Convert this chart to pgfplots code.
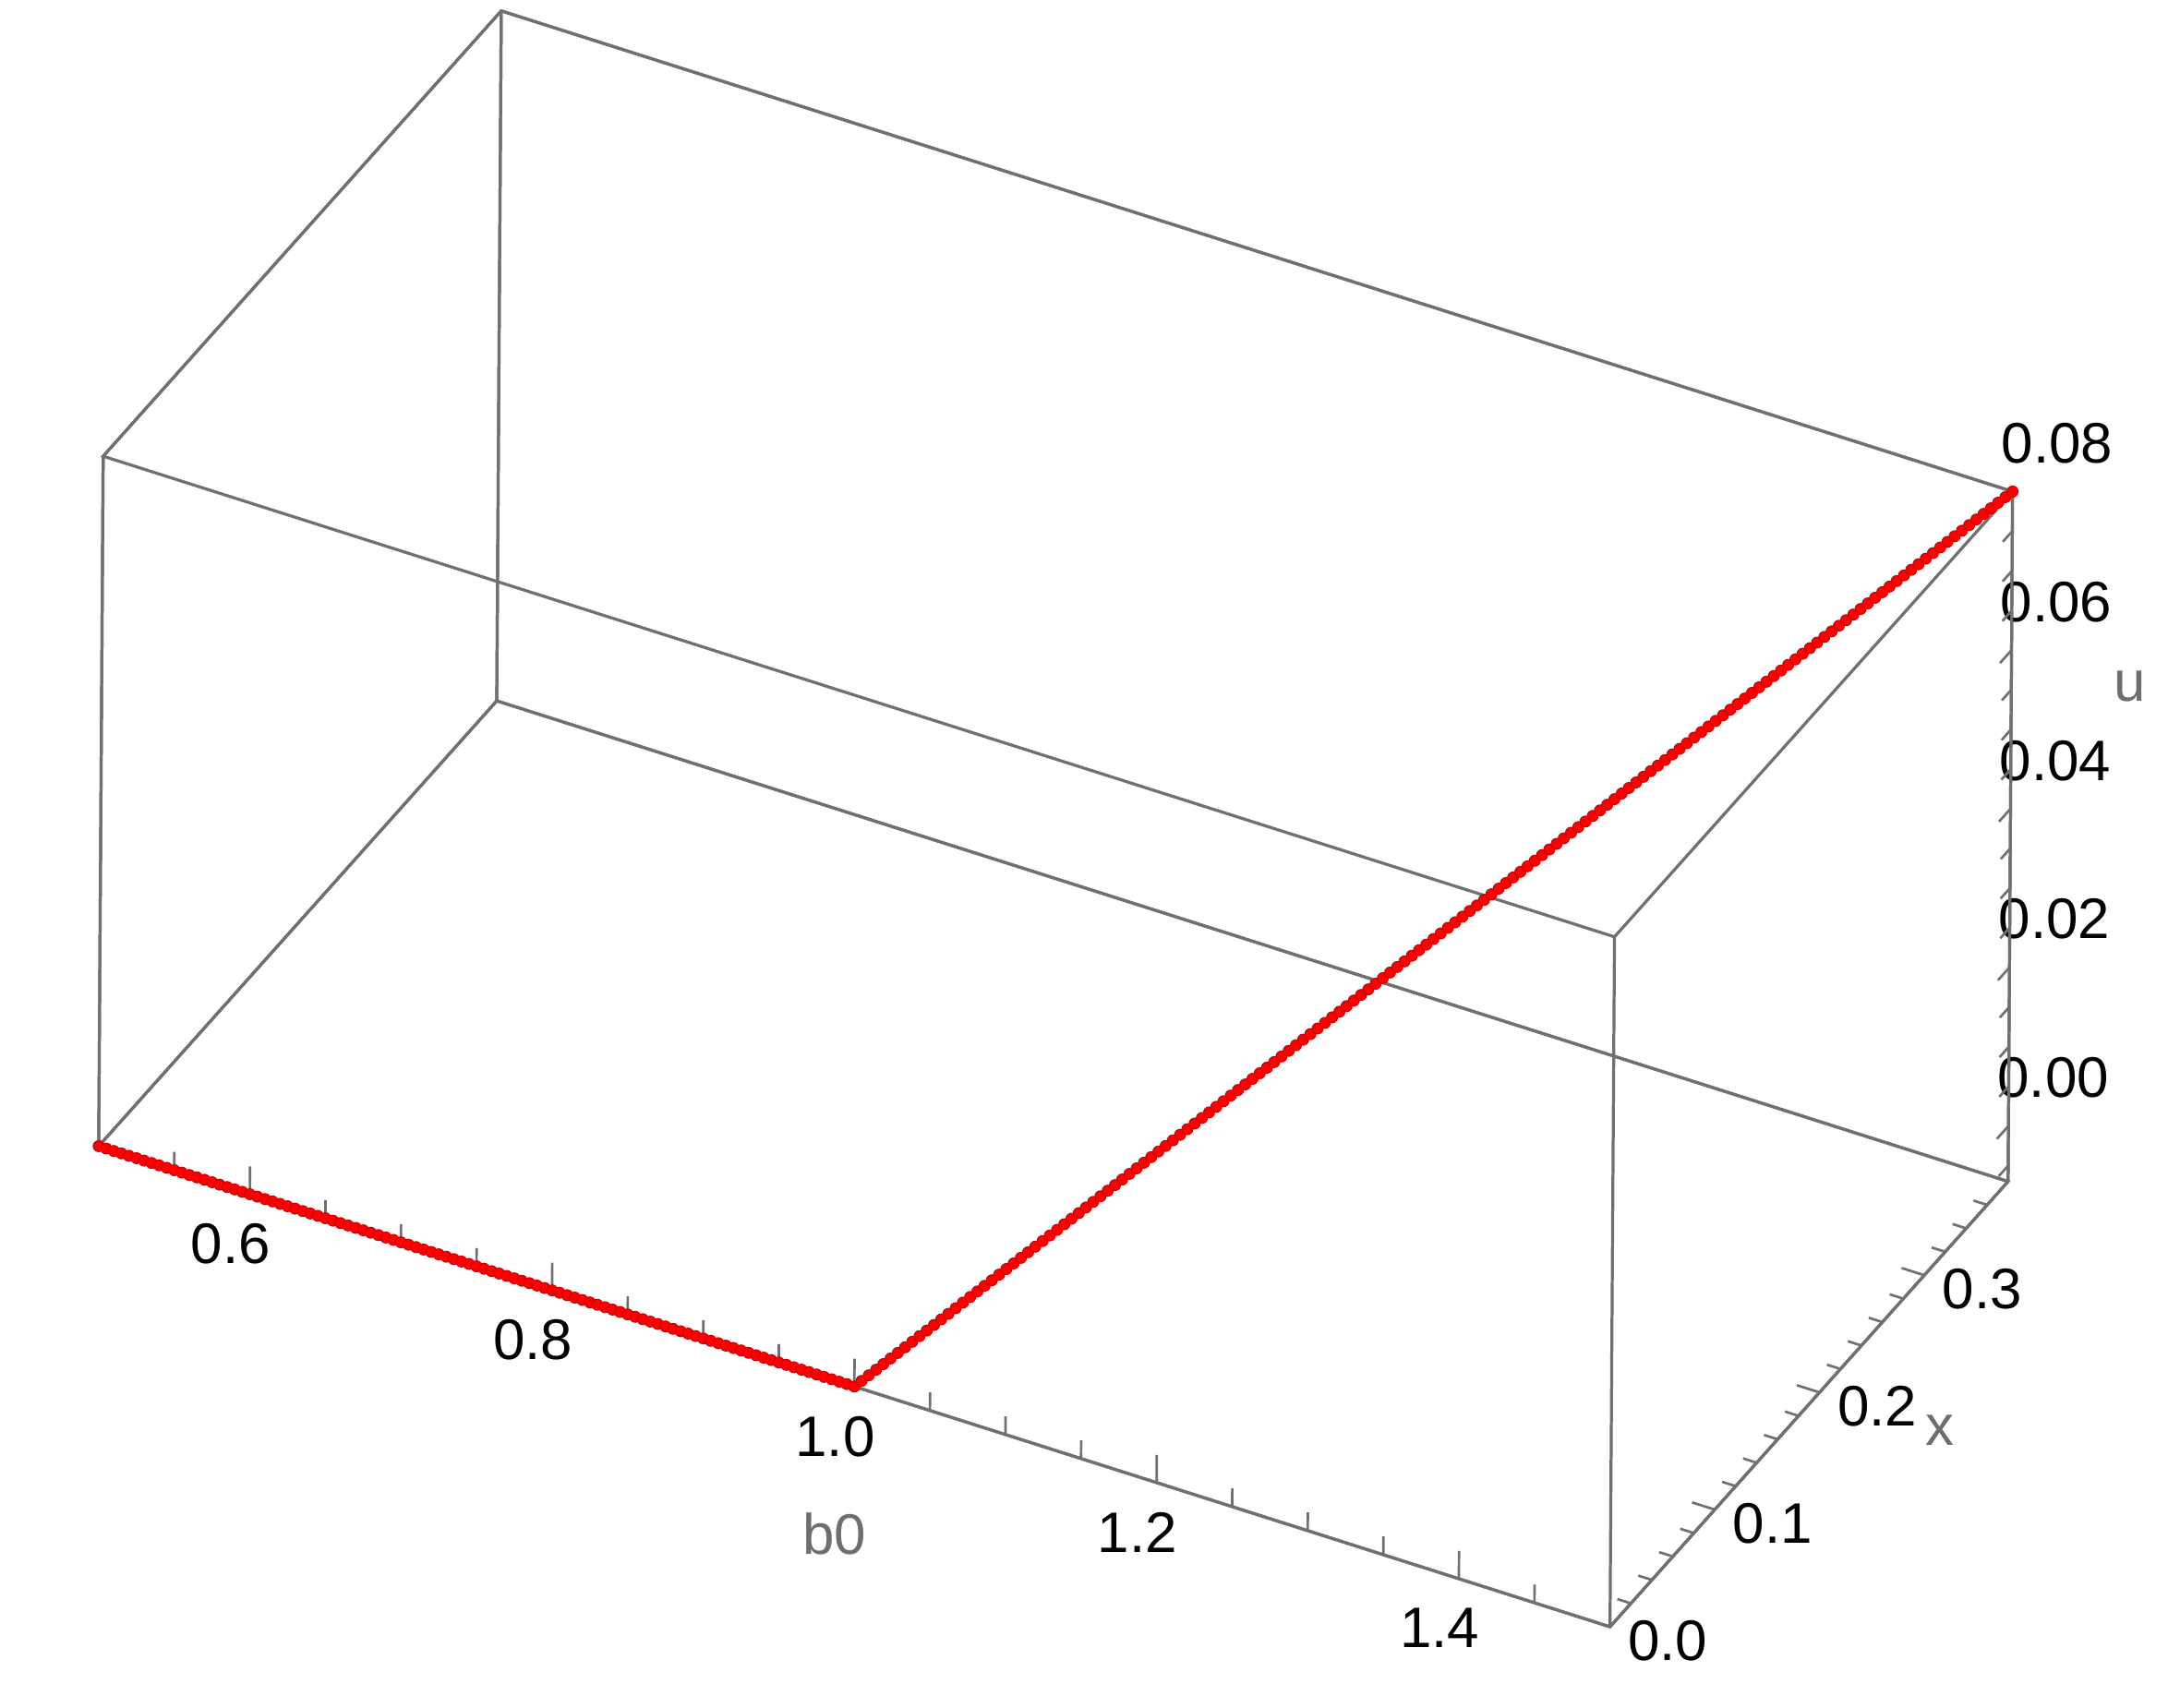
\documentclass[border=0pt]{standalone}
\usepackage{fontspec}
\setmainfont{Liberation Sans}
\usepackage{pgfplots}
\usepackage{pgfplotstable}
\pgfplotsset{compat=1.18}
\definecolor{boxgray}{RGB}{112,112,112}
\definecolor{lblgray}{RGB}{110,110,110}

% branch below b0 = 1: x = 0, u at the bottom of the box
\pgfplotstableread{
b0 x u
0.500 0 -0.007
0.505 0 -0.007
0.510 0 -0.007
0.515 0 -0.007
0.520 0 -0.007
0.525 0 -0.007
0.530 0 -0.007
0.535 0 -0.007
0.540 0 -0.007
0.545 0 -0.007
0.550 0 -0.007
0.555 0 -0.007
0.560 0 -0.007
0.565 0 -0.007
0.570 0 -0.007
0.575 0 -0.007
0.580 0 -0.007
0.585 0 -0.007
0.590 0 -0.007
0.595 0 -0.007
0.600 0 -0.007
0.605 0 -0.007
0.610 0 -0.007
0.615 0 -0.007
0.620 0 -0.007
0.625 0 -0.007
0.630 0 -0.007
0.635 0 -0.007
0.640 0 -0.007
0.645 0 -0.007
0.650 0 -0.007
0.655 0 -0.007
0.660 0 -0.007
0.665 0 -0.007
0.670 0 -0.007
0.675 0 -0.007
0.680 0 -0.007
0.685 0 -0.007
0.690 0 -0.007
0.695 0 -0.007
0.700 0 -0.007
0.705 0 -0.007
0.710 0 -0.007
0.715 0 -0.007
0.720 0 -0.007
0.725 0 -0.007
0.730 0 -0.007
0.735 0 -0.007
0.740 0 -0.007
0.745 0 -0.007
0.750 0 -0.007
0.755 0 -0.007
0.760 0 -0.007
0.765 0 -0.007
0.770 0 -0.007
0.775 0 -0.007
0.780 0 -0.007
0.785 0 -0.007
0.790 0 -0.007
0.795 0 -0.007
0.800 0 -0.007
0.805 0 -0.007
0.810 0 -0.007
0.815 0 -0.007
0.820 0 -0.007
0.825 0 -0.007
0.830 0 -0.007
0.835 0 -0.007
0.840 0 -0.007
0.845 0 -0.007
0.850 0 -0.007
0.855 0 -0.007
0.860 0 -0.007
0.865 0 -0.007
0.870 0 -0.007
0.875 0 -0.007
0.880 0 -0.007
0.885 0 -0.007
0.890 0 -0.007
0.895 0 -0.007
0.900 0 -0.007
0.905 0 -0.007
0.910 0 -0.007
0.915 0 -0.007
0.920 0 -0.007
0.925 0 -0.007
0.930 0 -0.007
0.935 0 -0.007
0.940 0 -0.007
0.945 0 -0.007
0.950 0 -0.007
0.955 0 -0.007
0.960 0 -0.007
0.965 0 -0.007
0.970 0 -0.007
0.975 0 -0.007
0.980 0 -0.007
0.985 0 -0.007
0.990 0 -0.007
0.995 0 -0.007
1.000 0 -0.007
}\lowbranch

% branch above b0 = 1
\pgfplotstableread{
b0 x u
1.003125 0.002375 -0.006456
1.006250 0.004750 -0.005912
1.009375 0.007125 -0.005369
1.012500 0.009500 -0.004825
1.015625 0.011875 -0.004281
1.018750 0.014250 -0.003737
1.021875 0.016625 -0.003194
1.025000 0.019000 -0.002650
1.028125 0.021375 -0.002106
1.031250 0.023750 -0.001562
1.034375 0.026125 -0.001019
1.037500 0.028500 -0.000475
1.040625 0.030875 0.000069
1.043750 0.033250 0.000613
1.046875 0.035625 0.001156
1.050000 0.038000 0.001700
1.053125 0.040375 0.002244
1.056250 0.042750 0.002788
1.059375 0.045125 0.003331
1.062500 0.047500 0.003875
1.065625 0.049875 0.004419
1.068750 0.052250 0.004963
1.071875 0.054625 0.005506
1.075000 0.057000 0.006050
1.078125 0.059375 0.006594
1.081250 0.061750 0.007138
1.084375 0.064125 0.007681
1.087500 0.066500 0.008225
1.090625 0.068875 0.008769
1.093750 0.071250 0.009313
1.096875 0.073625 0.009856
1.100000 0.076000 0.010400
1.103125 0.078375 0.010944
1.106250 0.080750 0.011488
1.109375 0.083125 0.012031
1.112500 0.085500 0.012575
1.115625 0.087875 0.013119
1.118750 0.090250 0.013663
1.121875 0.092625 0.014206
1.125000 0.095000 0.014750
1.128125 0.097375 0.015294
1.131250 0.099750 0.015838
1.134375 0.102125 0.016381
1.137500 0.104500 0.016925
1.140625 0.106875 0.017469
1.143750 0.109250 0.018013
1.146875 0.111625 0.018556
1.150000 0.114000 0.019100
1.153125 0.116375 0.019644
1.156250 0.118750 0.020188
1.159375 0.121125 0.020731
1.162500 0.123500 0.021275
1.165625 0.125875 0.021819
1.168750 0.128250 0.022363
1.171875 0.130625 0.022906
1.175000 0.133000 0.023450
1.178125 0.135375 0.023994
1.181250 0.137750 0.024538
1.184375 0.140125 0.025081
1.187500 0.142500 0.025625
1.190625 0.144875 0.026169
1.193750 0.147250 0.026713
1.196875 0.149625 0.027256
1.200000 0.152000 0.027800
1.203125 0.154375 0.028344
1.206250 0.156750 0.028888
1.209375 0.159125 0.029431
1.212500 0.161500 0.029975
1.215625 0.163875 0.030519
1.218750 0.166250 0.031063
1.221875 0.168625 0.031606
1.225000 0.171000 0.032150
1.228125 0.173375 0.032694
1.231250 0.175750 0.033238
1.234375 0.178125 0.033781
1.237500 0.180500 0.034325
1.240625 0.182875 0.034869
1.243750 0.185250 0.035413
1.246875 0.187625 0.035956
1.250000 0.190000 0.036500
1.253125 0.192375 0.037044
1.256250 0.194750 0.037588
1.259375 0.197125 0.038131
1.262500 0.199500 0.038675
1.265625 0.201875 0.039219
1.268750 0.204250 0.039763
1.271875 0.206625 0.040306
1.275000 0.209000 0.040850
1.278125 0.211375 0.041394
1.281250 0.213750 0.041938
1.284375 0.216125 0.042481
1.287500 0.218500 0.043025
1.290625 0.220875 0.043569
1.293750 0.223250 0.044113
1.296875 0.225625 0.044656
1.300000 0.228000 0.045200
1.303125 0.230375 0.045744
1.306250 0.232750 0.046288
1.309375 0.235125 0.046831
1.312500 0.237500 0.047375
1.315625 0.239875 0.047919
1.318750 0.242250 0.048463
1.321875 0.244625 0.049006
1.325000 0.247000 0.049550
1.328125 0.249375 0.050094
1.331250 0.251750 0.050638
1.334375 0.254125 0.051181
1.337500 0.256500 0.051725
1.340625 0.258875 0.052269
1.343750 0.261250 0.052813
1.346875 0.263625 0.053356
1.350000 0.266000 0.053900
1.353125 0.268375 0.054444
1.356250 0.270750 0.054988
1.359375 0.273125 0.055531
1.362500 0.275500 0.056075
1.365625 0.277875 0.056619
1.368750 0.280250 0.057163
1.371875 0.282625 0.057706
1.375000 0.285000 0.058250
1.378125 0.287375 0.058794
1.381250 0.289750 0.059338
1.384375 0.292125 0.059881
1.387500 0.294500 0.060425
1.390625 0.296875 0.060969
1.393750 0.299250 0.061513
1.396875 0.301625 0.062056
1.400000 0.304000 0.062600
1.403125 0.306375 0.063144
1.406250 0.308750 0.063688
1.409375 0.311125 0.064231
1.412500 0.313500 0.064775
1.415625 0.315875 0.065319
1.418750 0.318250 0.065863
1.421875 0.320625 0.066406
1.425000 0.323000 0.066950
1.428125 0.325375 0.067494
1.431250 0.327750 0.068038
1.434375 0.330125 0.068581
1.437500 0.332500 0.069125
1.440625 0.334875 0.069669
1.443750 0.337250 0.070213
1.446875 0.339625 0.070756
1.450000 0.342000 0.071300
1.453125 0.344375 0.071844
1.456250 0.346750 0.072388
1.459375 0.349125 0.072931
1.462500 0.351500 0.073475
1.465625 0.353875 0.074019
1.468750 0.356250 0.074563
1.471875 0.358625 0.075106
1.475000 0.361000 0.075650
1.478125 0.363375 0.076194
1.481250 0.365750 0.076738
1.484375 0.368125 0.077281
1.487500 0.370500 0.077825
1.490625 0.372875 0.078369
1.493750 0.375250 0.078913
1.496875 0.377625 0.079456
1.500000 0.380000 0.080000
}\highbranch

\begin{document}
\begin{tikzpicture}
\begin{axis}[
  x={(10.69cm,-3.40cm)}, y={(7.41cm,8.29cm)}, z={(0.366cm,56.1cm)},
  xmin=0.5, xmax=1.5, ymin=0, ymax=0.38, zmin=-0.007, zmax=0.08,
  clip=false,
  axis line style={boxgray, line width=0.6pt},
  tick style={draw=none},
  major tick length=0pt, minor tick length=0pt,
  xtick={0.6,0.8,1.0,1.2,1.4}, ytick={0,0.1,0.2,0.3},
  ztick={0,0.02,0.04,0.06,0.08},
  tick align=inside,
  zticklabel pos=right,
  scaled x ticks=false, scaled y ticks=false, scaled z ticks=false,
  tick label style={font=\fontsize{11.5}{13}\selectfont, text=black,
    /pgf/number format/assume math mode=true},
  xticklabel style={/pgf/number format/fixed,
    /pgf/number format/fixed zerofill, /pgf/number format/precision=1},
  yticklabel style={xshift=0.12cm, yshift=0.3cm, /pgf/number format/fixed,
    /pgf/number format/fixed zerofill, /pgf/number format/precision=1},
  zticklabel style={xshift=-0.2cm, yshift=0.2cm, /pgf/number format/fixed,
    /pgf/number format/fixed zerofill, /pgf/number format/precision=2},
  xlabel={b0}, ylabel={x}, zlabel={u},
  every axis x label/.style={at={(rel axis cs:0.5,0,0)}, anchor=center,
    xshift=-0.14cm, yshift=-1.04cm, font=\fontsize{11.5}{13}\selectfont, text=lblgray},
  every axis y label/.style={at={(rel axis cs:1,0.42,0)}, anchor=center,
    xshift=1.15cm, yshift=0.07cm, font=\fontsize{11.5}{13}\selectfont, text=lblgray},
  every axis z label/.style={at={(rel axis cs:1,1,0.717)}, anchor=center,
    xshift=0.84cm, font=\fontsize{11.5}{13}\selectfont, text=lblgray},
]
\addplot3[only marks, mark=*, mark size=1.1pt,
  mark options={fill=red, draw=red!80!black, line width=0.2pt}]
  table[x=b0, y=x, z=u] {\lowbranch};
\addplot3[only marks, mark=*, mark size=1.1pt,
  mark options={fill=red, draw=red!80!black, line width=0.2pt}]
  table[x=b0, y=x, z=u] {\highbranch};
% the twelve edges of the box
\draw[boxgray, line width=0.6pt]
  (axis cs:0.5,0,-0.007) -- (axis cs:1.5,0,-0.007) -- (axis cs:1.5,0.38,-0.007)
  -- (axis cs:0.5,0.38,-0.007) -- cycle
  (axis cs:0.5,0,0.08) -- (axis cs:1.5,0,0.08) -- (axis cs:1.5,0.38,0.08)
  -- (axis cs:0.5,0.38,0.08) -- cycle
  (axis cs:0.5,0,-0.007) -- (axis cs:0.5,0,0.08)
  (axis cs:1.5,0,-0.007) -- (axis cs:1.5,0,0.08)
  (axis cs:1.5,0.38,-0.007) -- (axis cs:1.5,0.38,0.08)
  (axis cs:0.5,0.38,-0.007) -- (axis cs:0.5,0.38,0.08);
% tick marks on the three labelled edges only
\pgfplotsinvokeforeach{0.6,0.8,1.0,1.2,1.4}{
  \draw[boxgray, line width=0.5pt] (axis cs:#1,0,-0.007) -- (axis cs:#1,0,-0.0035);}
\pgfplotsinvokeforeach{0.55,0.65,0.7,0.75,0.85,0.9,0.95,1.05,1.1,1.15,1.25,1.3,1.35,1.45}{
  \draw[boxgray, line width=0.5pt] (axis cs:#1,0,-0.007) -- (axis cs:#1,0,-0.0047);}
\pgfplotsinvokeforeach{0.1,0.2,0.3}{
  \draw[boxgray, line width=0.5pt] (axis cs:1.5,#1,-0.007) -- (axis cs:1.485,#1,-0.007);}
\pgfplotsinvokeforeach{0.02,0.04,0.06,0.08,0.12,0.14,0.16,0.18,0.22,0.24,0.26,0.28,0.32,0.34,0.36,0.38}{
  \draw[boxgray, line width=0.5pt] (axis cs:1.5,#1,-0.007) -- (axis cs:1.491,#1,-0.007);}
\pgfplotsinvokeforeach{0,0.02,0.04,0.06,0.08}{
  \draw[boxgray, line width=0.5pt] (axis cs:1.5,0.38,#1) -- (axis cs:1.5,0.369,#1);}
\pgfplotsinvokeforeach{-0.005,0.005,0.01,0.015,0.025,0.03,0.035,0.045,0.05,0.055,0.065,0.07,0.075}{
  \draw[boxgray, line width=0.5pt] (axis cs:1.5,0.38,#1) -- (axis cs:1.5,0.371,#1);}
\coordinate (O) at (axis cs:0.5,0,-0.007);
\end{axis}
\pgfresetboundingbox
\path (O) ++(-0.698cm,8.108cm) coordinate (TL);
\path[use as bounding box] (TL) rectangle ++(15.335cm,-12.078cm);
\end{tikzpicture}
\end{document}
